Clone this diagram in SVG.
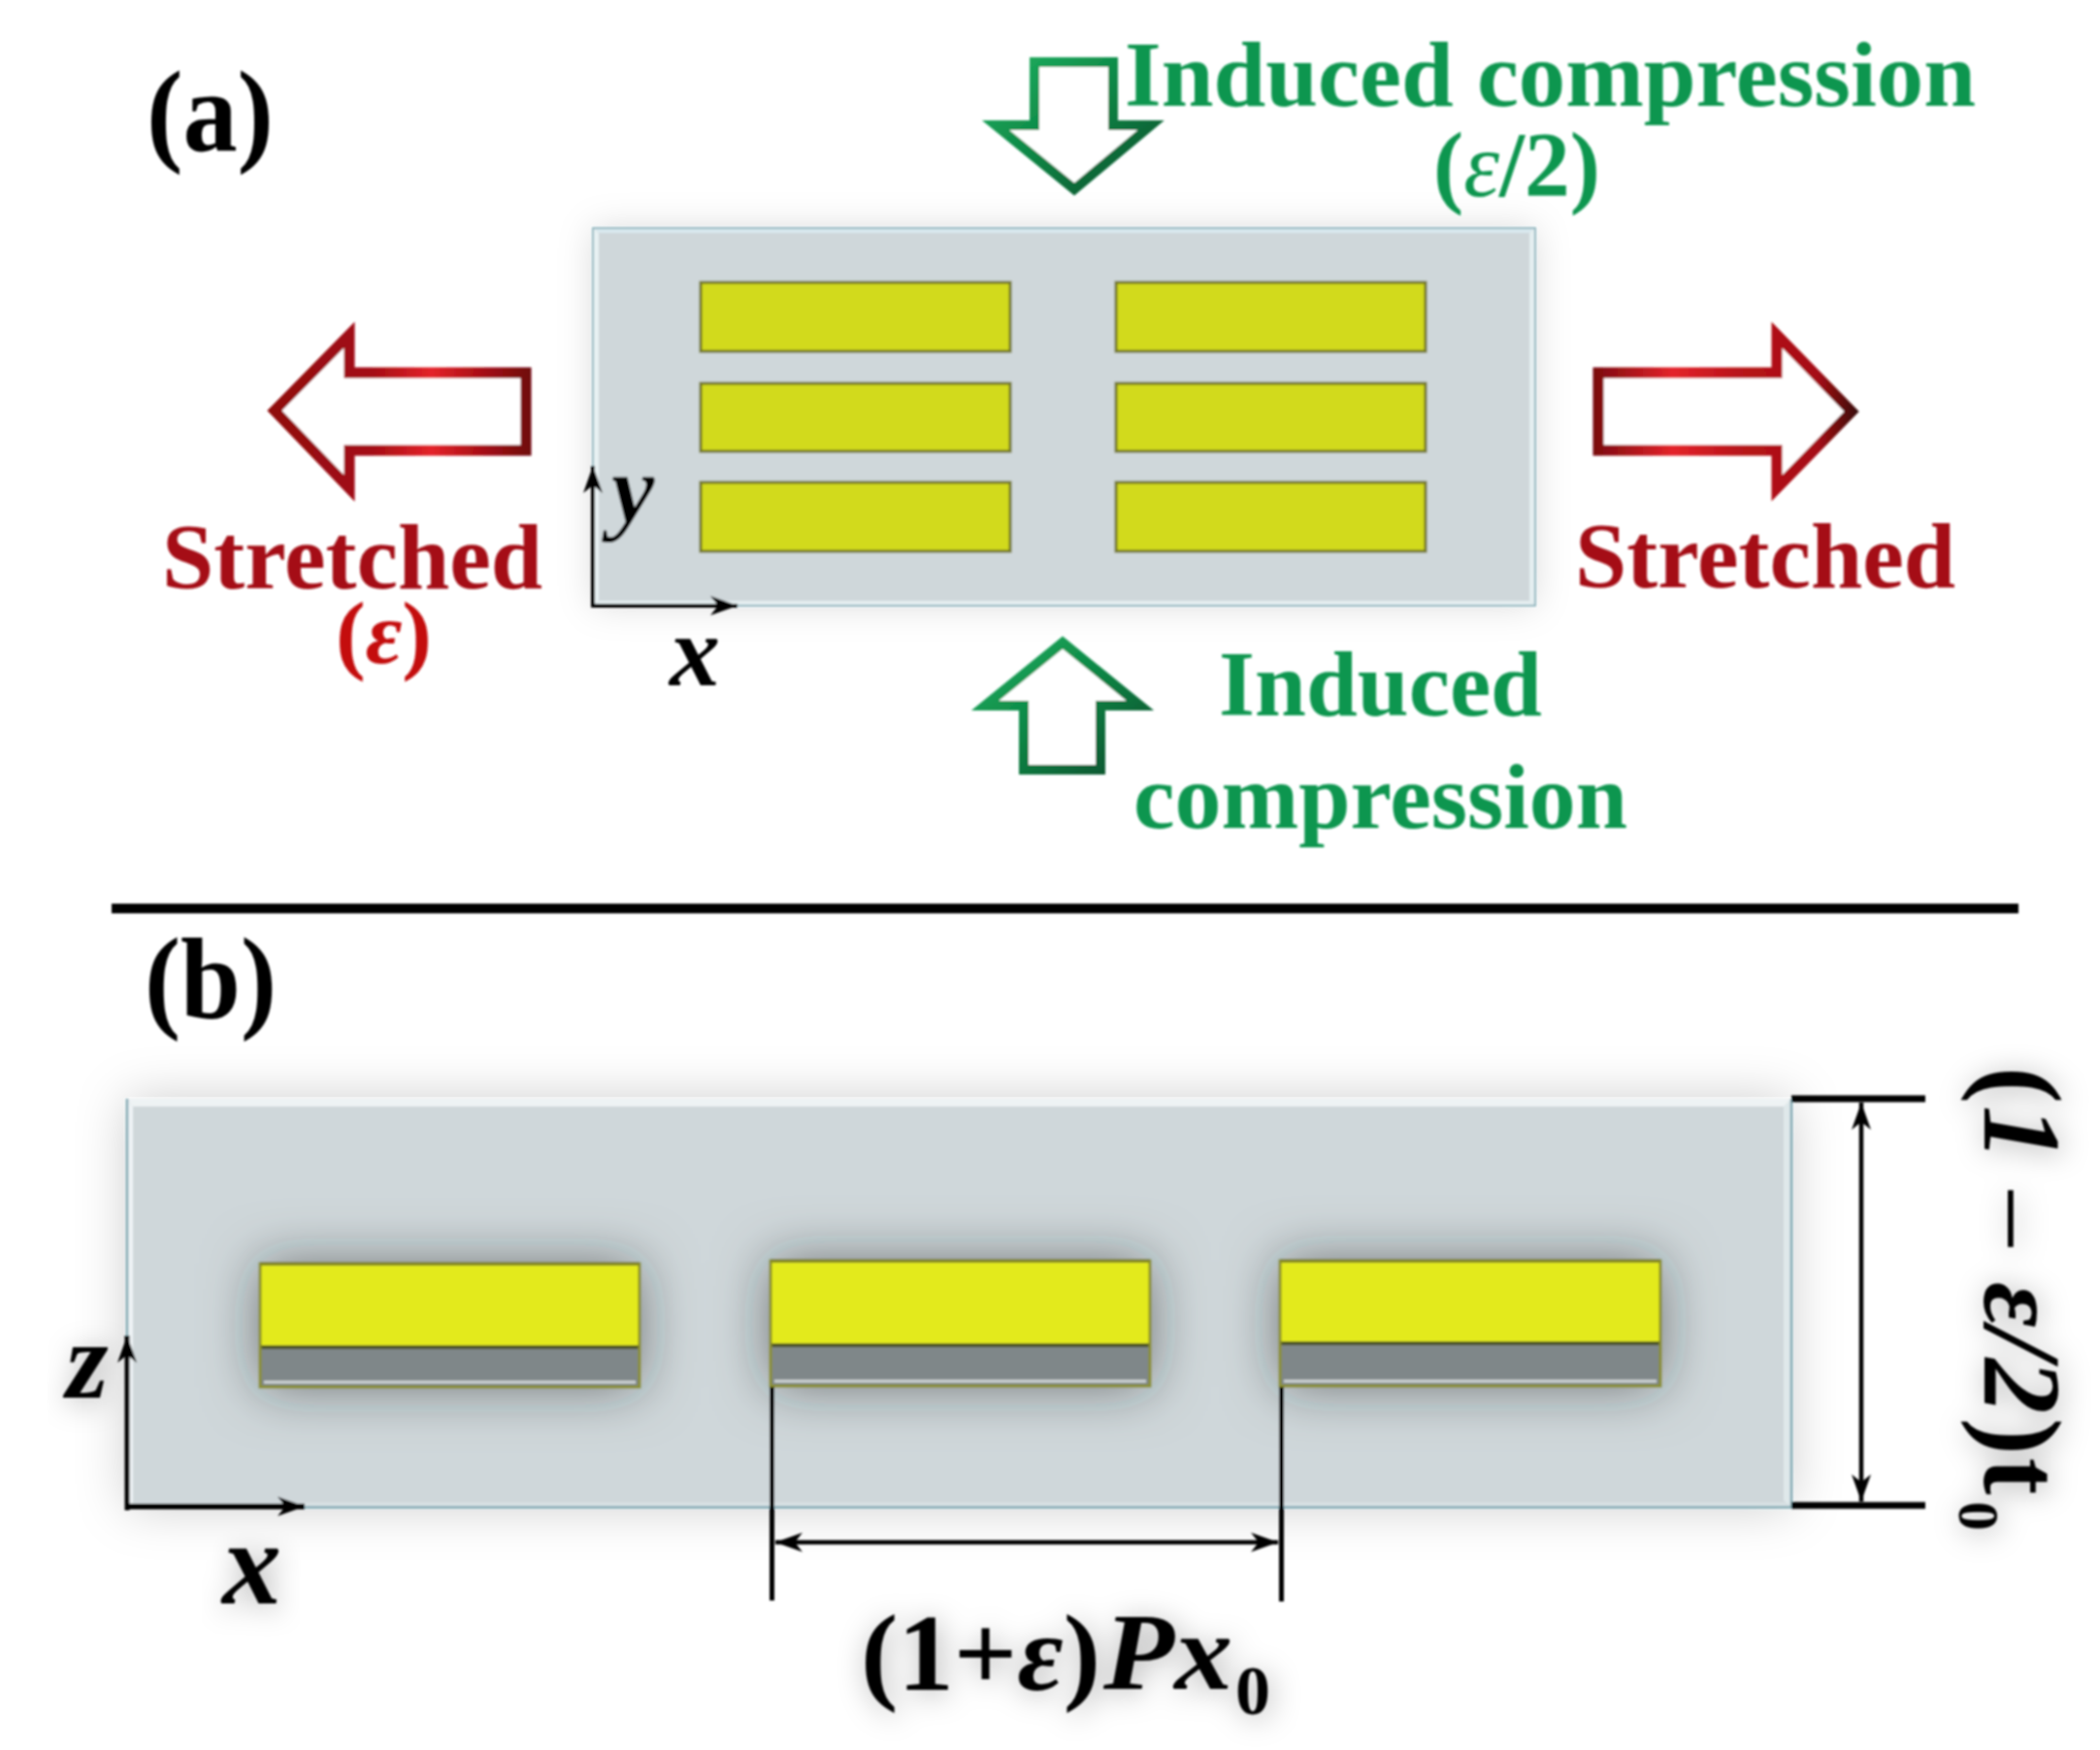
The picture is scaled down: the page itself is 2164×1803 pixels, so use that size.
<svg xmlns="http://www.w3.org/2000/svg" width="2164" height="1803" viewBox="0 0 2164 1803">
<style>
text{font-family:"Liberation Serif","Times New Roman",serif;font-weight:bold}
.k{fill:#000}.g{fill:#0b9650;font-size:96px}.r{fill:#a50d14;font-size:96px}
.i{font-style:italic}
.barA{fill:#d2da1f;stroke:#75782a;stroke-width:3}
.barY{fill:#e3ea1c}
.ax{stroke:#000;fill:none}
</style>
<defs>
<filter id="soft" x="-2%" y="-2%" width="104%" height="104%"><feGaussianBlur stdDeviation="1.1"/></filter>
<filter id="sh" x="-15%" y="-40%" width="130%" height="180%"><feDropShadow dx="0" dy="0" stdDeviation="18" flood-color="#000" flood-opacity="0.14"/></filter>
<filter id="shB" x="-15%" y="-40%" width="130%" height="180%"><feDropShadow dx="0" dy="0" stdDeviation="26" flood-color="#000" flood-opacity="0.2"/></filter>
<filter id="barSh" x="-30%" y="-80%" width="160%" height="260%"><feDropShadow dx="0" dy="0" stdDeviation="28" flood-color="#1e282b" flood-opacity="0.55"/></filter>
<filter id="txSh" x="-30%" y="-40%" width="160%" height="180%"><feDropShadow dx="3" dy="4" stdDeviation="15" flood-color="#000" flood-opacity="0.33"/></filter>
<linearGradient id="redL" gradientUnits="userSpaceOnUse" x1="277" y1="0" x2="547" y2="0"><stop offset="0" stop-color="#8f0a10"/><stop offset=".4" stop-color="#a50d14"/><stop offset=".62" stop-color="#e4232a"/><stop offset=".82" stop-color="#a50d14"/><stop offset="1" stop-color="#6f0a0e"/></linearGradient>
<linearGradient id="redR" gradientUnits="userSpaceOnUse" x1="1642" y1="0" x2="1914" y2="0"><stop offset="0" stop-color="#7a0a0e"/><stop offset=".3" stop-color="#e4232a"/><stop offset=".55" stop-color="#b8141a"/><stop offset=".85" stop-color="#a50d14"/><stop offset="1" stop-color="#3a0808"/></linearGradient>
<linearGradient id="grn" x1="0" y1="0" x2="1" y2="1"><stop offset="0" stop-color="#1fae5f"/><stop offset=".5" stop-color="#0b8444"/><stop offset="1" stop-color="#0a4f2e"/></linearGradient>
<marker id="ah" markerUnits="userSpaceOnUse" markerWidth="34" markerHeight="26" refX="30" refY="13" orient="auto-start-reverse"><path d="M2,3 L30,13 L2,23 L10,13 Z" fill="#000"/></marker>
</defs>
<rect width="2164" height="1803" fill="#fff"/>
<g filter="url(#soft)">
<g id="panel-a">
<rect x="611" y="235" width="971" height="389" fill="#cfd7da" filter="url(#sh)"/>
<path d="M611,235H1582L1576,240H617Z" fill="#d9e8ee"/>
<path d="M611,235L617,240V619L611,624Z" fill="#e8f1f3"/>
<path d="M1582,235V624L1576,619V240Z" fill="#e4eef0"/>
<path d="M611,624H1582L1576,619H617Z" fill="#e4eef0"/>
<rect x="611" y="235" width="971" height="389" fill="none" stroke="#93b7c0" stroke-width="2"/>
<rect class="barA" x="722" y="291" width="319" height="71"/>
<rect class="barA" x="722" y="395" width="319" height="70"/>
<rect class="barA" x="722" y="497" width="319" height="71"/>
<rect class="barA" x="1150" y="291" width="319" height="71"/>
<rect class="barA" x="1150" y="395" width="319" height="70"/>
<rect class="barA" x="1150" y="497" width="319" height="71"/>
</g>
<g id="arrows-a" stroke-linejoin="miter">
<path d="M283,423 L360,345 V384 H542 V464 H360 V503 Z" fill="#fff" stroke="url(#redL)" stroke-width="11"/>
<path d="M1647,384 H1831 V345 L1908,424 L1831,503 V464 H1647 Z" fill="#fff" stroke="url(#redR)" stroke-width="11"/>
<path d="M1066,64 H1147 V129 H1186 L1107,195 L1026,129 H1066 Z" fill="#fff" stroke="url(#grn)" stroke-width="10"/>
<path d="M1095,662 L1175,727 H1134 V793 H1055 V727 H1015 Z" fill="#fff" stroke="url(#grn)" stroke-width="10"/>
</g>
<g id="labels-a">
<text class="k" x="151" y="155" font-size="118" textLength="131" lengthAdjust="spacingAndGlyphs">(a)</text>
<text class="g" x="1159" y="109" textLength="877" lengthAdjust="spacingAndGlyphs">Induced compression</text>
<text class="g" x="1477" y="202" textLength="172" lengthAdjust="spacingAndGlyphs">(<tspan class="i" font-weight="normal">ε</tspan>/2)</text>
<text class="g" x="1256" y="737" textLength="333" lengthAdjust="spacingAndGlyphs">Induced</text>
<text class="g" x="1168" y="853" textLength="509" lengthAdjust="spacingAndGlyphs">compression</text>
<text class="r" x="167" y="606" textLength="392" lengthAdjust="spacingAndGlyphs">Stretched</text>
<text class="r" x="1623" y="605" textLength="392" lengthAdjust="spacingAndGlyphs">Stretched</text>
<text x="346" y="683" font-size="92" fill="#c40e10" textLength="99" lengthAdjust="spacingAndGlyphs">(<tspan class="i">ε</tspan>)</text>
<text class="k i" x="630" y="538" font-size="100">y</text>
<text class="k i" x="690" y="706" font-size="104">x</text>
</g>
<g id="axes-a" stroke-width="4">
<line class="ax" x1="611" y1="626" x2="611" y2="480" marker-end="url(#ah)"/>
<line class="ax" x1="609" y1="624" x2="760" y2="624" marker-end="url(#ah)"/>
</g>
<rect id="divider" x="115" y="931" width="1965" height="10" fill="#000"/>
<g id="panel-b">
<rect x="131" y="1132" width="1715" height="421" fill="#cfd7da" filter="url(#shB)"/>
<path d="M131,1132H1846L1840,1140H137Z" fill="#eef3f4"/>
<path d="M131,1132L137,1140V1548L131,1553Z" fill="#eef3f5"/>
<path d="M1846,1132V1553L1838,1546V1140Z" fill="#dfe8ea"/>
<path d="M131,1553H1846L1840,1548H137Z" fill="#d8e1e4"/>
<path d="M131,1132V1553H1846V1132" fill="none" stroke="#7fa9b3" stroke-width="2.5"/>
</g>
<g id="bar-1">
<rect x="268" y="1302" width="391" height="127" fill="#7f8789" filter="url(#barSh)"/>
<rect class="barY" x="268" y="1302" width="391" height="86"/>
<path d="M268,1302H659" stroke="#666a22" stroke-width="4"/><path d="M268,1388H659" stroke="#4e5528" stroke-width="4"/>
<path d="M272,1424H655" stroke="#cfd4d5" stroke-width="3"/>
<rect x="268" y="1302" width="391" height="127" fill="none" stroke="#8b8f2a" stroke-width="3"/>
</g>
<g id="bar-2">
<rect x="794" y="1299" width="391" height="129" fill="#7f8789" filter="url(#barSh)"/>
<rect class="barY" x="794" y="1299" width="391" height="87"/>
<path d="M794,1299H1185" stroke="#666a22" stroke-width="4"/><path d="M794,1386H1185" stroke="#4e5528" stroke-width="4"/>
<path d="M798,1423H1181" stroke="#cfd4d5" stroke-width="3"/>
<rect x="794" y="1299" width="391" height="129" fill="none" stroke="#8b8f2a" stroke-width="3"/>
</g>
<g id="bar-3">
<rect x="1319" y="1299" width="392" height="129" fill="#7f8789" filter="url(#barSh)"/>
<rect class="barY" x="1319" y="1299" width="392" height="84"/>
<path d="M1319,1299H1711" stroke="#666a22" stroke-width="4"/><path d="M1319,1384H1711" stroke="#4e5528" stroke-width="4"/>
<path d="M1323,1423H1707" stroke="#cfd4d5" stroke-width="3"/>
<rect x="1319" y="1299" width="392" height="129" fill="none" stroke="#8b8f2a" stroke-width="3"/>
</g>
<g id="connectors-b">
<line class="ax" stroke-width="5" x1="131" y1="1556" x2="131" y2="1376" marker-end="url(#ah)"/>
<line class="ax" stroke-width="6" x1="129" y1="1552" x2="314" y2="1552" marker-end="url(#ah)"/>
<line class="ax" stroke-width="5" x1="795.500" y1="1429" x2="795.500" y2="1649"/>
<line class="ax" stroke-width="5" x1="1320.500" y1="1429" x2="1320.500" y2="1650"/>
<line class="ax" stroke-width="4.500" x1="799" y1="1589" x2="1317" y2="1589" marker-start="url(#ah)" marker-end="url(#ah)"/>
<line class="ax" stroke-width="7" x1="1846" y1="1132" x2="1984" y2="1132"/>
<line class="ax" stroke-width="7" x1="1846" y1="1551" x2="1984" y2="1551"/>
<line class="ax" stroke-width="4.500" x1="1918" y1="1136" x2="1918" y2="1547" marker-start="url(#ah)" marker-end="url(#ah)"/>
</g>
<g id="labels-b" class="k">
<text x="149" y="1048" font-size="118" textLength="136" lengthAdjust="spacingAndGlyphs">(b)</text>
<text class="i" x="68" y="1440" font-size="112" filter="url(#txSh)">z</text>
<text class="i" x="229" y="1652" font-size="122" filter="url(#txSh)">x</text>
<g filter="url(#txSh)">
<text x="887" y="1741" font-size="112" textLength="247" lengthAdjust="spacingAndGlyphs">(1+<tspan class="i">ε</tspan>)</text>
<text class="i" x="1137" y="1740" font-size="112" textLength="133" lengthAdjust="spacingAndGlyphs">Px</text>
<text x="1273" y="1766" font-size="72">0</text>
<text transform="translate(2045,1099) rotate(90)" font-size="114"><tspan x="0">(</tspan><tspan class="i" x="40">1</tspan><tspan x="128" font-weight="normal">–</tspan><tspan class="i" x="222">ε/2</tspan><tspan x="362">)</tspan><tspan x="403">t</tspan><tspan x="448" font-size="60" y="26">0</tspan></text>
</g>
</g>
</g>
</svg>
